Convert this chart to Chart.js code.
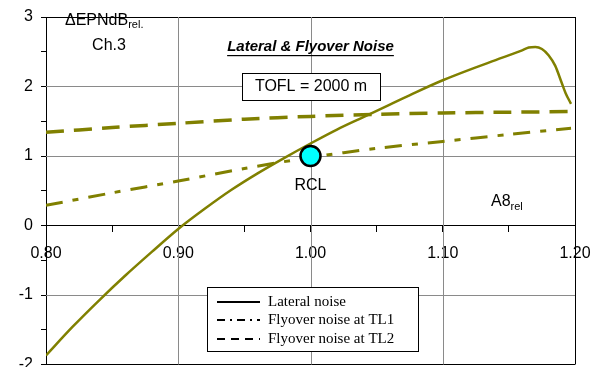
<!DOCTYPE html>
<html>
<head>
<meta charset="utf-8">
<script src="https://cdn.jsdelivr.net/npm/chart.js@4.4.1/dist/chart.umd.min.js"></script>
<style>
    html, body { margin: 0; padding: 0; background: #fff; overflow: hidden; }
    #wrap { width: 604px; height: 367px; overflow: hidden; }
</style>
</head>
<body>
<div id="wrap"><canvas id="noiseChart" width="604" height="377"></canvas></div>
<script>
// A8 relative (x) and delta EPNdB relative (y)
const lateralX = [0.80, 0.82, 0.84, 0.86, 0.88, 0.90, 0.92, 0.94, 0.96, 0.98, 1.00, 1.02, 1.04, 1.06, 1.08, 1.10, 1.12, 1.14, 1.16, 1.165, 1.17, 1.175, 1.18, 1.185, 1.19, 1.193, 1.197];
const lateralY = [-1.87, -1.46, -1.08, -0.72, -0.38, -0.05, 0.24, 0.51, 0.75, 0.97, 1.18, 1.38, 1.56, 1.74, 1.92, 2.09, 2.24, 2.38, 2.52, 2.56, 2.57, 2.54, 2.45, 2.30, 2.05, 1.90, 1.75];

const flyoverX = [0.80, 0.85, 0.90, 0.95, 1.00, 1.05, 1.10, 1.15, 1.197];
const tl1Y = [0.29, 0.47, 0.64, 0.82, 0.98, 1.11, 1.21, 1.31, 1.40];
const tl2Y = [1.34, 1.41, 1.47, 1.53, 1.57, 1.60, 1.62, 1.63, 1.64];

const rclPoint = { x: 1.00, y: 1.00 };

// inner grid lines (edges and the zero line come from the axes)
const xGridValues = [0.9, 1.0, 1.1];
const yGridValues = [-1, 1, 2];

const legendLabels = ['Lateral noise', 'Flyover noise at TL1', 'Flyover noise at TL2'];

const OLIVE = '#808000';
const GRID = '#8a8a8a';
const CLEAR = 'rgba(255,255,255,0)';

const toPoints = (xs, ys) => xs.map((x, i) => ({ x: x, y: ys[i] }));

// grey grid placed through the scales, under the curves
const gridLines = {
    id: 'gridLines',
    beforeDatasetsDraw(chart) {
        const ctx = chart.ctx;
        const a = chart.chartArea;
        const xs = chart.scales.x;
        const ys = chart.scales.y;
        ctx.save();
        ctx.fillStyle = GRID;
        xGridValues.forEach((v) => {
            const x = Math.round(xs.getPixelForValue(v));
            ctx.fillRect(x, a.top, 1, a.bottom - a.top);
        });
        yGridValues.forEach((v) => {
            const y = Math.round(ys.getPixelForValue(v));
            ctx.fillRect(a.left, y, a.right - a.left, 1);
        });
        ctx.restore();
    },
};

// text + legend drawn on top of the plot
const annotations = {
    id: 'annotations',
    afterDraw(chart) {
        const ctx = chart.ctx;
        const xs = chart.scales.x;
        const ys = chart.scales.y;
        const px = (v) => xs.getPixelForValue(v);
        const py = (v) => ys.getPixelForValue(v);
        ctx.save();
        ctx.fillStyle = '#000';
        ctx.textBaseline = 'middle';

        // y axis title
        ctx.font = '16px "Liberation Sans", Arial, sans-serif';
        ctx.textAlign = 'left';
        ctx.fillText('\u0394EPNdB', 65, 21);
        const w = ctx.measureText('\u0394EPNdB').width;
        ctx.font = '11px "Liberation Sans", Arial, sans-serif';
        ctx.fillText('rel.', 65 + w, 25);
        ctx.font = '16px "Liberation Sans", Arial, sans-serif';
        ctx.textAlign = 'center';
        ctx.fillText('Ch.3', 109, 46);

        // title
        ctx.font = 'italic bold 15px "Liberation Sans", Arial, sans-serif';
        const title = 'Lateral & Flyover Noise';
        const tx = px(1.0);
        const tw = ctx.measureText(title).width;
        ctx.fillText(title, tx, 47);
        ctx.fillRect(tx - tw / 2, 55, tw, 1.2);

        // TOFL box
        ctx.fillStyle = '#fff';
        ctx.fillRect(242, 73, 138, 27);
        ctx.strokeStyle = '#000';
        ctx.lineWidth = 1;
        ctx.strokeRect(242.5, 73.5, 138, 27);
        ctx.fillStyle = '#000';
        ctx.font = '16px "Liberation Sans", Arial, sans-serif';
        ctx.fillText('TOFL = 2000 m', 311, 87);

        // RCL label
        ctx.fillText('RCL', px(rclPoint.x), py(rclPoint.y) + 30);

        // A8 rel
        ctx.textAlign = 'left';
        ctx.fillText('A8', 491, 202);
        const aw = ctx.measureText('A8').width;
        ctx.font = '11px "Liberation Sans", Arial, sans-serif';
        ctx.fillText('rel', 491 + aw, 207);

        // legend
        const lx = 207, ly = 287, lw = 211, lh = 64;
        ctx.fillStyle = '#fff';
        ctx.fillRect(lx, ly, lw, lh);
        ctx.strokeRect(lx + 0.5, ly + 0.5, lw, lh);
        const dashes = [[], [8, 5, 2, 5], [8, 6]];
        const rows = [302, 320, 339];
        ctx.font = '15px "Liberation Serif", "Times New Roman", serif';
        rows.forEach((ry, i) => {
            ctx.beginPath();
            ctx.setLineDash(dashes[i]);
            ctx.lineWidth = 2;
            ctx.strokeStyle = '#000';
            ctx.moveTo(217, ry);
            ctx.lineTo(260, ry);
            ctx.stroke();
            ctx.setLineDash([]);
            ctx.fillStyle = '#000';
            ctx.fillText(legendLabels[i], 268, ry);
        });
        ctx.restore();
    },
};

const ctx = document.getElementById('noiseChart').getContext('2d');

new Chart(ctx, {
    type: 'scatter',
    data: {
        datasets: [
            {
                label: 'RCL',
                data: [rclPoint],
                pointRadius: 10,
                pointBackgroundColor: '#00ffff',
                pointBorderColor: '#000',
                pointBorderWidth: 2.5,
                showLine: false,
                order: 0,
            },
            {
                label: legendLabels[0],
                data: toPoints(lateralX, lateralY),
                borderColor: OLIVE,
                borderWidth: 2.5,
                showLine: true,
                pointRadius: 0,
                cubicInterpolationMode: 'monotone',
                order: 1,
            },
            {
                label: legendLabels[1],
                data: toPoints(flyoverX, tl1Y),
                borderColor: OLIVE,
                borderWidth: 3,
                borderDash: [17, 10, 6, 10],
                showLine: true,
                pointRadius: 0,
                tension: 0.3,
                order: 1,
            },
            {
                label: legendLabels[2],
                data: toPoints(flyoverX, tl2Y),
                borderColor: OLIVE,
                borderWidth: 3.5,
                borderDash: [18, 10],
                showLine: true,
                pointRadius: 0,
                tension: 0.3,
                order: 1,
            },
        ],
    },
    options: {
        responsive: false,
        animation: false,
        layout: { padding: { top: 17, right: 29, bottom: 5, left: 0 } },
        plugins: {
            legend: { display: false },
            tooltip: { enabled: false },
        },
        scales: {
            x: {
                type: 'linear',
                position: { y: 0 },
                min: 0.8,
                max: 1.2,
                afterFit: (scale) => {
                    scale.height = 0;
                    scale.paddingTop = 0;
                    scale.paddingBottom = 0;
                },
                ticks: {
                    stepSize: 0.05,
                    autoSkip: false,
                    maxRotation: 0,
                    padding: 12,
                    color: '#000',
                    font: { size: 16, family: '"Liberation Sans", Arial, sans-serif' },
                    callback: (v, i) => (i % 2 === 0 ? v.toFixed(2) : ''),
                },
                grid: {
                    lineWidth: 1,
                    color: (c) => (c.index === 8 ? '#000' : CLEAR),
                    tickColor: '#000',
                    tickLength: 6,
                },
                border: { color: '#000', width: 1 },
            },
            y: {
                min: -2,
                max: 3,
                afterFit: (scale) => {
                    scale.width = 46;
                    scale.paddingTop = 0;
                    scale.paddingBottom = 0;
                },
                ticks: {
                    stepSize: 0.5,
                    padding: 8,
                    color: '#000',
                    font: { size: 16, family: '"Liberation Sans", Arial, sans-serif' },
                    callback: (v, i) => (i % 2 === 0 ? String(v) : ''),
                },
                grid: {
                    lineWidth: 1,
                    color: (c) => (c.index === 0 || c.index === 10 ? '#000' : CLEAR),
                    tickColor: '#000',
                    tickLength: 5,
                },
                border: { color: '#000', width: 1 },
            },
        },
    },
    plugins: [gridLines, annotations],
});
</script>
</body>
</html>
